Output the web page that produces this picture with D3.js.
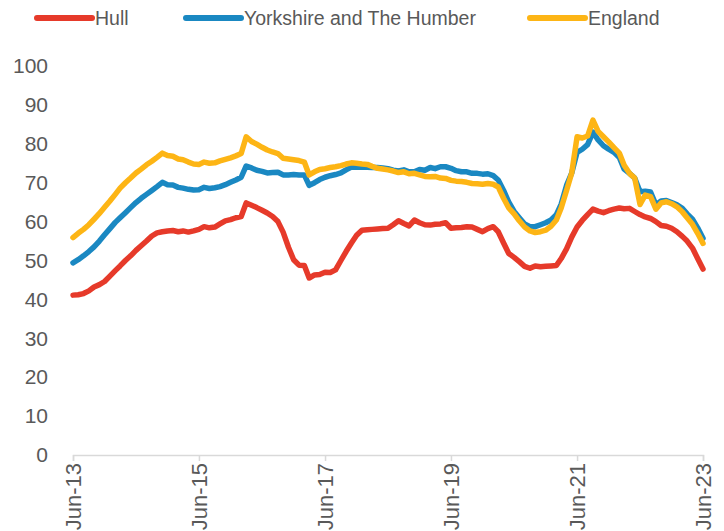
<meta charset="utf-8">

<!-- Load d3.js -->
<script src="https://d3js.org/d3.v7.min.js"></script>

<style>
  body { margin: 0; background: #fff; }
  text { font-family: "Liberation Sans", Arial, sans-serif; fill: #595959; }
</style>

<div id="lineChart"></div>
<script>

// monthly index values, Jun-13 .. Jun-23
var startMonth = new Date(2013, 5, 1);

var hull = [41.1, 41.2, 41.5, 42.2, 43.2, 43.8, 44.6, 46.0, 47.4, 48.6, 50.0, 51.2,
  52.6, 53.8, 55.0, 56.3, 57.1, 57.4, 57.6, 57.7, 57.4, 57.6, 57.3, 57.6,
  58.0, 58.7, 58.4, 58.6, 59.4, 60.2, 60.5, 61.0, 61.3, 64.8, 64.2, 63.6,
  62.9, 62.2, 61.3, 60.0, 57.3, 53.4, 50.2, 48.8, 48.7, 45.5, 46.3, 46.4,
  47.0, 46.9, 47.6, 50.0, 52.3, 54.5, 56.5, 57.8, 57.9, 58.0, 58.1, 58.2,
  58.3, 59.2, 60.2, 59.5, 58.9, 60.4, 59.7, 59.2, 59.1, 59.3, 59.4, 59.7,
  58.3, 58.4, 58.5, 58.7, 58.6, 58.0, 57.4, 58.2, 58.7, 57.4, 54.5, 51.8,
  50.8, 49.7, 48.5, 48.0, 48.6, 48.4, 48.5, 48.6, 48.7, 50.5, 53.0, 56.0,
  58.6, 60.3, 61.8, 63.2, 62.7, 62.3, 62.8, 63.2, 63.5, 63.3, 63.4, 62.6,
  61.8, 61.2, 60.8, 60.0, 59.0, 58.8, 58.3, 57.4, 56.2, 55.0, 53.2, 50.5,
  47.8];

var yorkshire = [49.4, 50.2, 51.2, 52.3, 53.5, 55.0, 56.6, 58.2, 59.8, 61.0, 62.3, 63.6,
  64.9, 66.0, 67.0, 68.0, 69.0, 70.1, 69.5, 69.4, 68.8, 68.6, 68.3, 68.1,
  68.2, 68.8, 68.5, 68.7, 69.0, 69.5, 70.1, 70.7, 71.4, 74.3, 73.8, 73.2,
  72.9, 72.5, 72.6, 72.7, 72.0, 72.0, 72.1, 72.0, 72.0, 69.3, 70.0, 70.8,
  71.4, 71.8, 72.1, 72.5, 73.3, 74.0, 74.0, 74.0, 74.0, 73.9, 73.9, 73.8,
  73.6, 73.2, 73.0, 73.3, 72.8, 72.8, 73.4, 73.2, 73.9, 73.6, 74.1, 74.1,
  73.7, 73.1, 72.8, 72.8, 72.4, 72.4, 72.2, 72.3, 71.8, 70.7, 68.0, 65.0,
  62.6, 61.0, 59.4, 58.7, 58.7, 59.2, 59.7, 60.4, 61.8, 64.5, 69.3, 72.5,
  77.8, 78.6, 79.8, 83.0, 81.0, 79.5, 78.6, 77.8, 76.5, 73.5, 72.4, 71.2,
  67.7, 67.8, 67.6, 64.3, 65.3, 65.4, 64.9, 64.3, 63.4, 62.0, 60.6, 58.4,
  55.7];

var england = [55.9, 57.0, 58.0, 59.2, 60.6, 62.1, 63.7, 65.3, 67.0, 68.6, 70.0, 71.2,
  72.5, 73.5, 74.6, 75.5, 76.5, 77.6, 77.0, 76.8, 76.1, 75.9, 75.3, 74.8,
  74.7, 75.3, 75.0, 75.1, 75.6, 76.0, 76.4, 76.9, 77.5, 81.8, 80.6, 79.9,
  79.1, 78.4, 77.9, 77.5, 76.3, 76.1, 75.9, 75.7, 75.3, 72.0, 72.8, 73.4,
  73.6, 73.9, 74.1, 74.4, 74.8, 75.1, 75.0, 74.8, 74.7, 74.2, 73.7, 73.5,
  73.3, 73.0, 72.6, 72.8, 72.3, 72.4, 72.0, 71.6, 71.5, 71.6, 71.2, 71.1,
  70.6, 70.4, 70.3, 70.1, 69.8, 69.7, 69.6, 69.8, 69.6, 68.9, 66.0, 63.5,
  62.0, 60.2, 58.6, 57.6, 57.2, 57.4, 57.8, 58.8, 60.4, 63.5, 68.0, 72.5,
  81.8, 81.5, 82.0, 86.1, 83.2, 81.8, 80.5, 79.0, 77.6, 74.5, 72.4, 71.2,
  64.4, 66.8, 66.4, 63.2, 64.8, 65.1, 64.6, 63.8, 62.5, 61.0, 59.3, 57.0,
  54.4];

var seriesNames = ["Hull", "Yorkshire and The Humber", "England"];
var seriesColors = ["#e63a2a", "#1a88c2", "#fdb515"];
var yTicks = [0, 10, 20, 30, 40, 50, 60, 70, 80, 90, 100];

var series = [hull, yorkshire, england].map(function(vals, i) {
  return {
    name: seriesNames[i],
    color: seriesColors[i],
    values: vals.map(function(v, m) {
      return { date: d3.timeMonth.offset(startMonth, m), value: v };
    })
  };
});

// set the dimensions and margins of the graph
var margin = {top: 66, right: 21, bottom: 76, left: 73},
    width = 724 - margin.left - margin.right,
    height = 531 - margin.top - margin.bottom;

var root = d3.select("#lineChart")
  .append("svg")
    .attr("width", 724)
    .attr("height", 531);

var svg = root.append("g")
    .attr("transform", "translate(" + margin.left + "," + margin.top + ")");

// X axis
var x = d3.scaleTime()
  .domain([startMonth, d3.timeMonth.offset(startMonth, 120)])
  .range([0, width]);

var xTickDates = d3.range(0, 121, 24).map(function(m) { return d3.timeMonth.offset(startMonth, m); });

var xAxis = svg.append("g")
  .attr("transform", "translate(0," + height + ")")
  .call(d3.axisBottom(x)
    .tickValues(xTickDates)
    .tickSize(6)
    .tickPadding(6)
    .tickFormat(d3.timeFormat("%b-%y")));
xAxis.selectAll("path, line").attr("stroke", "#d9d9d9").attr("stroke-width", 1.5);
xAxis.selectAll("text")
  .attr("transform", "rotate(-90)")
  .attr("x", -8)
  .attr("y", 0)
  .attr("dy", "0.35em")
  .style("text-anchor", "end")
  .style("font-size", "22px")
  .attr("fill", "#595959");

// Y axis
var y = d3.scaleLinear()
  .domain([0, 100])
  .range([height, 0]);

var yAxis = svg.append("g")
  .call(d3.axisLeft(y).tickValues(yTicks).tickSize(0).tickPadding(25));
yAxis.select(".domain").remove();
yAxis.selectAll("text")
  .style("font-size", "21px")
  .attr("fill", "#595959");

// lines
var line = d3.line()
  .x(function(d) { return x(d.date); })
  .y(function(d) { return y(d.value); });

svg.selectAll(".series")
  .data(series)
  .enter()
  .append("path")
    .attr("class", "series")
    .attr("fill", "none")
    .attr("stroke", function(d) { return d.color; })
    .attr("stroke-width", 5.5)
    .attr("stroke-linejoin", "round")
    .attr("stroke-linecap", "round")
    .attr("d", function(d) { return line(d.values); });

// legend
var legendX = [37, 186, 530];
var legend = root.selectAll(".legend")
  .data(series)
  .enter()
  .append("g")
    .attr("class", "legend")
    .attr("transform", function(d, i) { return "translate(" + legendX[i] + ",18)"; });

legend.append("line")
  .attr("x1", 0).attr("x2", 55)
  .attr("stroke", function(d) { return d.color; })
  .attr("stroke-width", 6)
  .attr("stroke-linecap", "round");

legend.append("text")
  .attr("x", 58)
  .attr("dy", "0.35em")
  .style("font-size", "19.5px")
  .text(function(d) { return d.name; });

</script>
